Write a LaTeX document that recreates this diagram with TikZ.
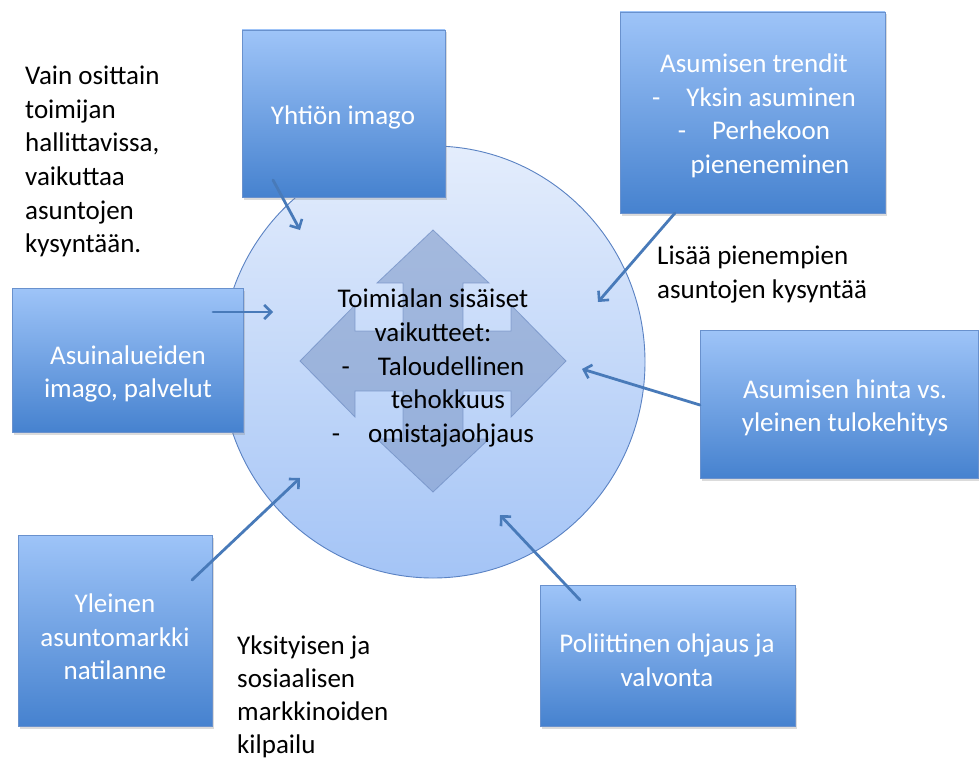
\documentclass[tikz,border=0pt]{standalone}
\usepackage{fontspec}
\setmainfont{Carlito}
\usetikzlibrary{arrows.meta,shadows,shapes.geometric}
\definecolor{boxtop}{RGB}{158,196,248}
\definecolor{boxbot}{RGB}{70,130,207}
\definecolor{boxline}{RGB}{105,145,205}
\definecolor{circtop}{RGB}{228,237,252}
\definecolor{circbot}{RGB}{164,196,246}
\definecolor{circline}{RGB}{90,130,195}
\definecolor{crossfill}{RGB}{130,156,202}
\definecolor{crossline}{RGB}{110,140,195}
\definecolor{arrowcol}{RGB}{72,122,185}
\begin{document}
\begin{tikzpicture}[x=1pt,y=-1pt,
  bluebox/.style={draw=boxline, line width=0.8pt, top color=boxtop, bottom color=boxbot,
    inner sep=0pt, drop shadow={shadow xshift=2pt,shadow yshift=-2.5pt,opacity=0.28}},
  boxtext/.style={text=white, align=center, inner sep=0pt, font=\fontsize{27}{33.5}\selectfont},
  plaintext/.style={text=black, align=left, inner sep=0pt, font=\fontsize{27}{33.6}\selectfont},
  conn/.style={draw=arrowcol, line width=2.8pt, line cap=round,
    -{Straight Barb[length=7pt,width=14pt,line width=2.6pt]}}]
\useasboundingbox (0,0) rectangle (979,760);
\fill[white] (0,0) rectangle (979,760);

% central circle
\node[ellipse, draw=circline, line width=0.9pt, top color=circtop, bottom color=circbot,
  minimum width=424pt, minimum height=432pt, inner sep=0pt] (circ) at (433,362) {};

% quad arrow
\begin{scope}[shift={(433,361)}]
\path[fill=crossfill, fill opacity=0.6, draw=crossline, draw opacity=0.7, line width=0.8pt]
  (0,-131) -- (56,-78) -- (30,-78) -- (30,-30) -- (78,-30) -- (78,-56) -- (133,0)
  -- (78,56) -- (78,30) -- (30,30) -- (30,78) -- (56,78) -- (0,131)
  -- (-56,78) -- (-30,78) -- (-30,30) -- (-78,30) -- (-78,56) -- (-133,0)
  -- (-78,-56) -- (-78,-30) -- (-30,-30) -- (-30,-78) -- (-56,-78) -- cycle;
\end{scope}

\node[plaintext, align=center] (inner) at (433,368)
  {Toimialan sisäiset\\vaikutteet:\\-\hspace{28pt}Taloudellinen\\\hspace*{30pt}tehokkuus\\-\hspace{28pt}omistajaohjaus};

% boxes
\node[bluebox, minimum width=203pt, minimum height=167pt] (imago) at (343.5,113.5) {};
\node[boxtext] (imagot) at (343,117) {Yhtiön imago};

\node[bluebox, minimum width=265pt, minimum height=201pt] (trend) at (752.5,112.5) {};
\node[boxtext] (trendt) at (754,116) {Asumisen trendit\\-\hspace{26pt}Yksin asuminen\\-\hspace{26pt}Perhekoon\\\hspace*{32pt}pieneneminen};

\node[bluebox, minimum width=231pt, minimum height=144pt] (asuin) at (127.5,360) {};
\node[boxtext] (asuint) at (128,374) {Asuinalueiden\\imago, palvelut};

\node[bluebox, minimum width=278pt, minimum height=148pt] (hinta) at (839,404) {};
\node[boxtext] (hintat) at (845,408) {Asumisen hinta vs.\\yleinen tulokehitys};

\node[bluebox, minimum width=194pt, minimum height=191pt] (ylei) at (115,630.5) {};
\node[boxtext] (yleit) at (115,637) {Yleinen\\asuntomarkki\\natilanne};

\node[bluebox, minimum width=255pt, minimum height=141pt] (poli) at (667.5,655.5) {};
\node[boxtext] (polit) at (667,660) {Poliittinen ohjaus ja\\valvonta};

% free texts
\node[plaintext, anchor=north west] (vain) at (25,66)
  {Vain osittain\\toimijan\\hallittavissa,\\vaikuttaa\\asuntojen\\kysyntään.};
\node[plaintext, anchor=north west] (lisaa) at (657,246)
  {Lisää pienempien\\asuntojen kysyntää};
\node[plaintext, anchor=north west, font=\fontsize{27}{33}\selectfont] (yksi) at (237,636)
  {Yksityisen ja\\sosiaalisen\\markkinoiden\\kilpailu};

% connector endpoints
\coordinate (a1s) at (273,180); \coordinate (a1e) at (300,230);
\coordinate (a2s) at (213,312); \coordinate (a2e) at (273,312);
\coordinate (a3s) at (675,213); \coordinate (a3e) at (598,302);
\coordinate (a4s) at (700,405); \coordinate (a4e) at (582,369);
\coordinate (a5s) at (192,580); \coordinate (a5e) at (300,478);
\coordinate (a6s) at (580,600); \coordinate (a6e) at (500,515);

\draw[conn] (a1s) -- (a1e);
\draw[conn] (a2s) -- (a2e);
\draw[conn] (a3s) -- (a3e);
\draw[conn] (a4s) -- (a4e);
\draw[conn] (a5s) -- (a5e);
\draw[conn] (a6s) -- (a6e);
\end{tikzpicture}
\end{document}
